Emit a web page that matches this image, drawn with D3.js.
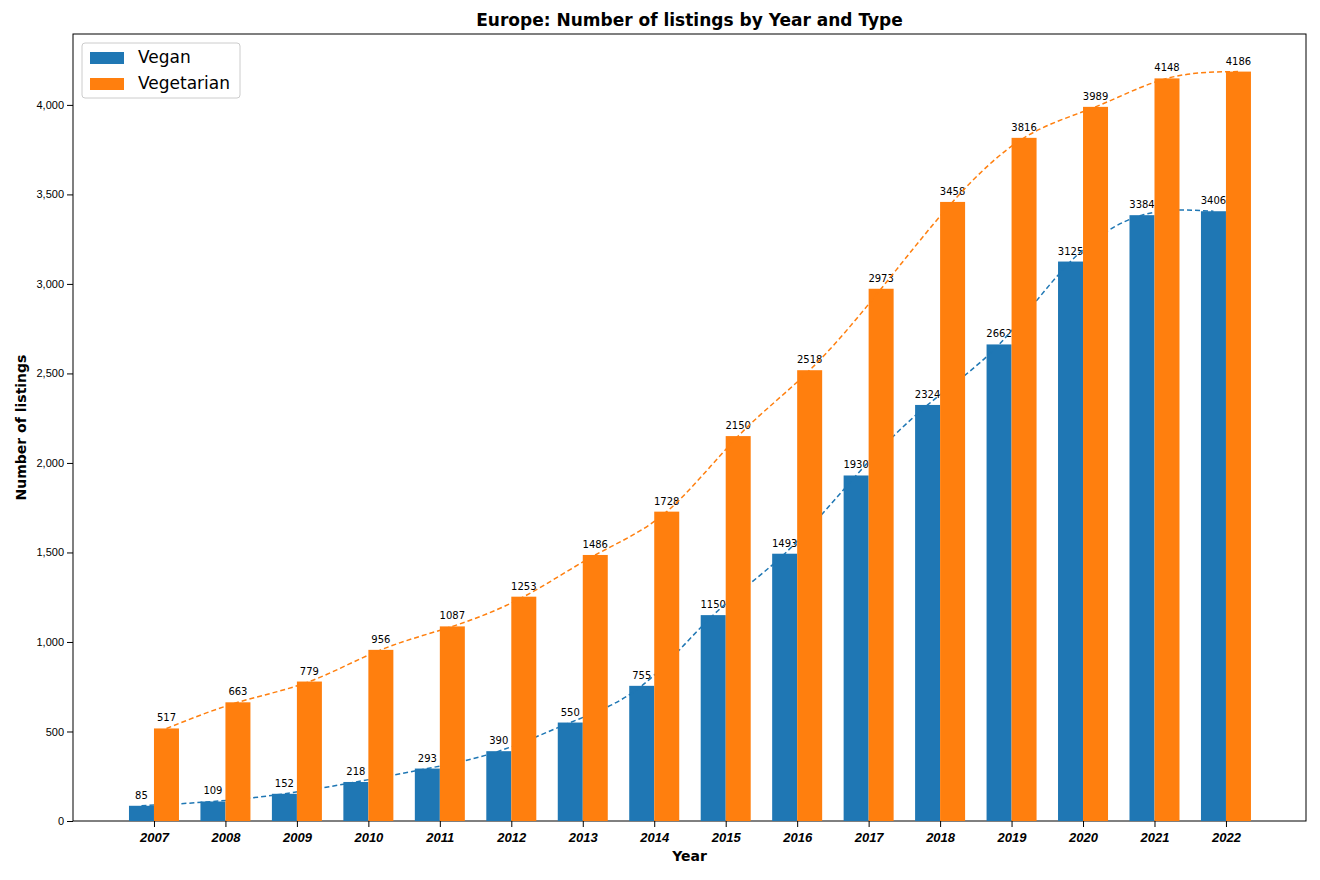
<!DOCTYPE html>
<html><head><meta charset="utf-8">
<script src="https://cdn.jsdelivr.net/npm/d3@7"></script>
<style>body{margin:0;background:#fff;font-family:"DejaVu Sans",sans-serif}</style>
</head><body><div id="chart"></div>
<script>
var years = ['2007','2008','2009','2010','2011','2012','2013','2014','2015','2016','2017','2018','2019','2020','2021','2022'];
var vegan = [85,109,152,218,293,390,550,755,1150,1493,1930,2324,2662,3125,3384,3406];
var vegetarian = [517,663,779,956,1087,1253,1486,1728,2150,2518,2973,3458,3816,3989,4148,4186];
var yTicks = [0,500,1000,1500,2000,2500,3000,3500,4000];

var margin = {top: 34, right: 14, bottom: 59, left: 73};
var w = 1320 - margin.left - margin.right,
    h = 880 - margin.top - margin.bottom;

var svg = d3.select('#chart').append('svg')
    .attr('width', 1320).attr('height', 880);
var g = svg.append('g').attr('transform', 'translate(' + margin.left + ',' + margin.top + ')');

var x = d3.scaleLinear().domain([-1.133, 16.12]).range([0, w]);
var y = d3.scaleLinear().domain([0, 4396]).range([h, 0]);
var bw = 25;

g.append('g').attr('transform', 'translate(0,' + h + ')')
    .call(d3.axisBottom(x).tickValues(d3.range(16)).tickFormat(function(i){return years[i];}).tickSizeOuter(0))
    .selectAll('text').attr('font-size', 13).attr('font-weight', 'bold').attr('font-style', 'italic').attr('dy', '0.9em');
g.append('g')
    .call(d3.axisLeft(y).tickValues(yTicks).tickSizeOuter(0))
    .selectAll('text').attr('font-size', 11);
g.selectAll('.domain').remove();
g.append('rect').attr('width', w).attr('height', h).attr('fill', 'none').attr('stroke', '#000');

var series = [
  {name: 'Vegan', data: vegan, color: '#1f77b4', off: -bw},
  {name: 'Vegetarian', data: vegetarian, color: '#ff7f0e', off: 0}
];

series.forEach(function(s) {
  g.selectAll(null).data(s.data).enter().append('rect')
    .attr('x', function(d, i){ return x(i) + s.off; })
    .attr('y', function(d){ return y(d); })
    .attr('width', bw).attr('height', function(d){ return h - y(d); })
    .attr('fill', s.color);
  g.selectAll(null).data(s.data).enter().append('text')
    .attr('x', function(d, i){ return x(i) + s.off + bw / 2; })
    .attr('y', function(d){ return y(d) - 7; })
    .attr('text-anchor', 'middle').attr('font-size', 10)
    .text(function(d){ return d; });
  g.append('path').datum(s.data)
    .attr('d', d3.line().curve(d3.curveNatural)
      .x(function(d, i){ return x(i) + s.off + bw / 2; })
      .y(function(d){ return y(d); }))
    .attr('fill', 'none').attr('stroke', s.color).attr('stroke-width', 1.5)
    .attr('stroke-dasharray', '5,3');
});

svg.append('text').attr('x', margin.left + w / 2).attr('y', 26).attr('text-anchor', 'middle')
  .attr('font-size', 17).attr('font-weight', 'bold').text('Europe: Number of listings by Year and Type');
svg.append('text').attr('x', margin.left + w / 2).attr('y', 861).attr('text-anchor', 'middle')
  .attr('font-size', 14).attr('font-weight', 'bold').text('Year');
svg.append('text').attr('transform', 'translate(26,' + (margin.top + h / 2) + ') rotate(-90)')
  .attr('text-anchor', 'middle').attr('font-size', 14).attr('font-weight', 'bold').text('Number of listings');

var lg = svg.append('g').attr('transform', 'translate(82,43)');
lg.append('rect').attr('width', 158).attr('height', 55).attr('rx', 3)
  .attr('fill', '#fff').attr('stroke', '#ccc');
series.forEach(function(s, i) {
  lg.append('rect').attr('x', 8).attr('y', 9 + i * 26).attr('width', 34).attr('height', 12).attr('fill', s.color);
  lg.append('text').attr('x', 56).attr('y', 20 + i * 26).attr('font-size', 17).text(s.name);
});
</script></body></html>
